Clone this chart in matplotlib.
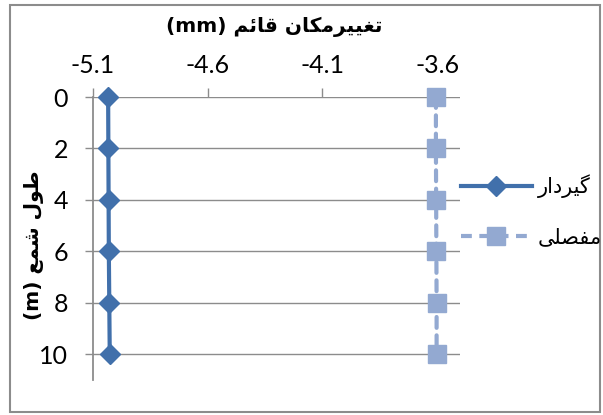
import numpy as np
import matplotlib
matplotlib.use('Agg')
import matplotlib.pyplot as plt
from matplotlib.lines import Line2D

# داده ها
depth = [0, 2, 4, 6, 8, 10]
fixed = [-5.034, -5.033, -5.032, -5.031, -5.029, -5.027]     # گیردار
hinged = [-3.605, -3.605, -3.604, -3.603, -3.602, -3.602]    # مفصلی
xticks = [-5.1, -4.6, -4.1, -3.6]
yticks = [0, 2, 4, 6, 8, 10]

title_fa = 'تغییرمکان قائم'
ylabel_fa = 'طول شمع'
names = ['گیردار', 'مفصلی']

# شکل دادن حروف فارسی (matplotlib اتصال حروف را انجام نمی دهد)
# (isolated, final, initial, medial)
FORMS = {
    'ا': ('\uFE8D', '\uFE8E', None, None),
    'د': ('\uFEA9', '\uFEAA', None, None),
    'ر': ('\uFEAD', '\uFEAE', None, None),
    'و': ('\uFEED', '\uFEEE', None, None),
    'ت': ('\uFE95', '\uFE96', '\uFE97', '\uFE98'),
    'ئ': ('\uFE89', '\uFE8A', '\uFE8B', '\uFE8C'),
    'ش': ('\uFEB5', '\uFEB6', '\uFEB7', '\uFEB8'),
    'ص': ('\uFEB9', '\uFEBA', '\uFEBB', '\uFEBC'),
    'ط': ('\uFEC1', '\uFEC2', '\uFEC3', '\uFEC4'),
    'ع': ('\uFEC9', '\uFECA', '\uFECB', '\uFECC'),
    'غ': ('\uFECD', '\uFECE', '\uFECF', '\uFED0'),
    'ف': ('\uFED1', '\uFED2', '\uFED3', '\uFED4'),
    'ق': ('\uFED5', '\uFED6', '\uFED7', '\uFED8'),
    'ل': ('\uFEDD', '\uFEDE', '\uFEDF', '\uFEE0'),
    'م': ('\uFEE1', '\uFEE2', '\uFEE3', '\uFEE4'),
    'ن': ('\uFEE5', '\uFEE6', '\uFEE7', '\uFEE8'),
    'ک': ('\uFB8E', '\uFB8F', '\uFB90', '\uFB91'),
    'گ': ('\uFB92', '\uFB93', '\uFB94', '\uFB95'),
    'ی': ('\uFBFC', '\uFBFD', '\uFBFE', '\uFBFF'),
}

def shape(text):
    out = []
    for i, ch in enumerate(text):
        if ch not in FORMS:
            out.append(ch)
            continue
        prev = text[i-1] if i > 0 else ''
        nxt = text[i+1] if i < len(text) - 1 else ''
        join_prev = prev in FORMS and FORMS[prev][2] is not None
        join_next = nxt in FORMS and FORMS[ch][2] is not None
        f = FORMS[ch]
        if join_prev and join_next:
            out.append(f[3])
        elif join_prev:
            out.append(f[1])
        elif join_next:
            out.append(f[2])
        else:
            out.append(f[0])
    return ''.join(out)[::-1]

dark = '#4170AB'
light = '#93A9D1'
grid_c = '#8C8C8C'

plt.rcParams['font.family'] = ['Lato', 'DejaVu Sans']

fig = plt.figure(figsize=(6.03, 4.15), dpi=100)
ax = fig.add_axes([93/603, 1-380/415, (460-93)/603, (380-97)/415])

ax.plot(fixed, depth, color=dark, lw=3, marker='D', ms=10, mec=dark, mfc=dark,
        solid_capstyle='round', zorder=5, clip_on=False)
ax.plot(hinged, depth, color=light, lw=3, ls=(0, (2.6, 1.8)), marker='s', ms=13,
        mec=light, mfc=light, dash_capstyle='round', zorder=5, clip_on=False)

ax.set_xlim(-5.1, -3.5)
ax.set_ylim(11, 0)
ax.set_xticks(xticks)
ax.set_xticklabels([str(v) for v in xticks])
ax.set_yticks(yticks)
ax.xaxis.tick_top()
ax.tick_params(axis='x', direction='out', length=6.5, width=1, color=grid_c,
               labelsize=18, pad=8)
ax.tick_params(axis='y', direction='out', length=6, width=1, color=grid_c,
               labelsize=18, pad=12)

for y in yticks:
    ax.axhline(y, color=grid_c, lw=1, zorder=1)
for s in ['right', 'bottom', 'top']:
    ax.spines[s].set_visible(False)
ax.spines['left'].set_color(grid_c)
ax.spines['left'].set_linewidth(1.3)

fig.text(274/603, 1-27/415, '(mm) ' + shape(title_fa), ha='center', va='center',
         fontsize=14.5, fontweight='bold', family=['DejaVu Sans'])
fig.text(34/603, 1-245/415, '(m) ' + shape(ylabel_fa), ha='center', va='center',
         rotation=90, fontsize=14.5, fontweight='bold', family=['DejaVu Sans'])

handles = [Line2D([], [], color=dark, lw=3, marker='D', ms=10),
           Line2D([], [], color=light, lw=3, ls=(0, (2.6, 1.8)), marker='s', ms=13)]
fig.legend(handles, [shape(n) for n in names], loc='center left',
           bbox_to_anchor=(461/603, 1-211/415), frameon=False,
           handlelength=3.4, labelspacing=1.4, handletextpad=0.3,
           borderpad=0, borderaxespad=0,
           prop={'family': ['DejaVu Sans'], 'size': 15})

# قاب بیرونی
fig.patches.append(plt.Rectangle((10/603, 3/415), 590/603, 407/415, fill=False,
                                 ec='#8C8C8C', lw=1.5, transform=fig.transFigure))

fig.savefig('out.png', dpi=100)
